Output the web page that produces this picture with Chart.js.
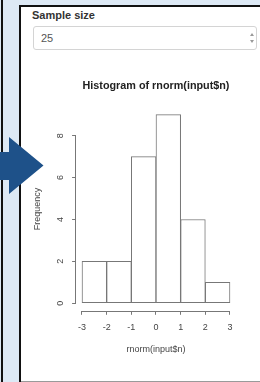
<!DOCTYPE html>
<html>
<head>
<meta charset="utf-8">
<script src="https://cdn.jsdelivr.net/npm/chart.js@4.4.1/dist/chart.umd.min.js"></script>
<style>
  html, body { margin: 0; padding: 0; width: 260px; height: 382px; overflow: hidden; background: #fff;
    font-family: 'Liberation Sans', Arial, Helvetica, sans-serif; }
  .abs { position: absolute; }
  #topband { left: 0; top: 0; width: 260px; height: 5px; background: #dde9f5; }
  #strip { left: 0; top: 0; width: 19px; height: 382px; background: #dde9f5; }
  #line1 { left: 1px; top: 0; width: 2px; height: 382px; background: #111; }
  #line2 { left: 19px; top: 5px; width: 2px; height: 377px; background: #111; }
  #line3 { left: 19px; top: 5px; width: 241px; height: 1.5px; background: #111; }
  #bottom { left: 21px; top: 380.5px; width: 239px; height: 1.5px; background: #9a9a9a; }
  #label { left: 32px; top: 8px; font-size: 11px; line-height: 14px; font-weight: bold; color: #333; }
  #input { left: 33px; top: 26px; width: 224px; height: 24px; box-sizing: border-box; border: 1px solid #d4d4d4;
    border-radius: 3px; font-size: 11px; line-height: 22px; color: #555; padding-left: 7px; }
  .tri { width: 0; height: 0; border-left: 2.5px solid transparent; border-right: 2.5px solid transparent; }
  #up { left: 249.5px; top: 33px; border-bottom: 3px solid #999; }
  #down { left: 249.5px; top: 40px; border-top: 3px solid #999; }
  #wrap { left: 21px; top: 60px; width: 239px; height: 320px; }
</style>
</head>
<body>
<div id="topband" class="abs"></div>
<div id="strip" class="abs"></div>
<div id="line1" class="abs"></div>
<div id="line2" class="abs"></div>
<div id="line3" class="abs"></div>
<div id="bottom" class="abs"></div>
<svg class="abs" style="left:0;top:0" width="50" height="382">
  <polygon points="0,152 9,152 9,137 43.5,165.5 9,194 9,180 0,180" fill="#1e5189"/>
</svg>
<div id="label" class="abs">Sample size</div>
<div id="input" class="abs">25</div>
<div id="up" class="abs tri"></div>
<div id="down" class="abs tri"></div>
<div id="wrap" class="abs"><canvas id="hist"></canvas></div>

<script>
// histogram of 25 draws, bins of width 1
const binMids = [-2.5, -1.5, -0.5, 0.5, 1.5, 2.5];
const counts = [2, 2, 7, 9, 4, 1];
const xTicks = [-3, -2, -1, 0, 1, 2, 3];
const yTicks = [0, 2, 4, 6, 8];

const lineCol = '#777';
const textCol = '#444';
const fam = "'Liberation Sans', Arial, Helvetica, sans-serif";

// R style axis lines: only from first to last tick
const rAxes = {
    id: 'rAxes',
    afterDraw(chart) {
        const { ctx, chartArea, scales: { x, y } } = chart;
        ctx.save();
        ctx.strokeStyle = lineCol;
        ctx.lineWidth = 1;
        ctx.beginPath();
        const by = Math.round(chartArea.bottom) + 0.5;
        ctx.moveTo(x.getPixelForValue(xTicks[0]), by);
        ctx.lineTo(x.getPixelForValue(xTicks[xTicks.length - 1]), by);
        const lx = Math.round(chartArea.left) - 0.5;
        ctx.moveTo(lx, y.getPixelForValue(yTicks[0]));
        ctx.lineTo(lx, y.getPixelForValue(yTicks[yTicks.length - 1]));
        ctx.stroke();
        ctx.restore();
    }
};

const tickFont = { size: 9, family: fam };

new Chart(document.getElementById('hist'), {
    type: 'bar',
    data: {
        datasets: [{
            data: binMids.map((m, i) => ({ x: m, y: counts[i] })),
            backgroundColor: '#fff',
            borderColor: lineCol,
            borderWidth: 1,
            borderSkipped: false,
            barPercentage: 1,
            categoryPercentage: 1
        }]
    },
    options: {
        responsive: true,
        maintainAspectRatio: false,
        animation: false,
        layout: { padding: { left: 0, right: 24.1, top: 0, bottom: 24.2 } },
        plugins: {
            legend: { display: false },
            tooltip: { enabled: false },
            title: {
                display: true,
                text: 'Histogram of rnorm(input$n)',
                fullSize: false,
                color: '#222',
                font: { size: 10.8, weight: 'bold', family: fam },
                padding: { top: 19.5, bottom: 14.7 }
            }
        },
        scales: {
            x: {
                type: 'linear',
                min: -3.24,
                max: 3.24,
                offset: false,
                afterBuildTicks: s => { s.ticks = xTicks.map(v => ({ value: v })); },
                afterFit: s => { s.height = 45; },
                grid: { offset: false, drawOnChartArea: false, drawTicks: true, tickLength: 4, color: lineCol },
                border: { display: false },
                ticks: { color: textCol, font: tickFont, padding: 7, maxRotation: 0, autoSkip: false, callback: v => String(v) },
                title: { display: true, text: 'rnorm(input$n)', color: textCol, font: tickFont, padding: { top: 0, bottom: 0.4 } }
            },
            y: {
                min: -0.36,
                max: 9.36,
                afterBuildTicks: s => { s.ticks = yTicks.map(v => ({ value: v })); },
                afterFit: s => { s.width = 55.08; },
                grid: { drawOnChartArea: false, drawTicks: true, tickLength: 4, color: lineCol },
                border: { display: false },
                ticks: { color: textCol, font: tickFont, padding: 9.5, minRotation: 90, maxRotation: 90, crossAlign: 'center', callback: v => String(v) },
                title: { display: true, text: 'Frequency', color: textCol, font: tickFont, padding: { top: 11.6, bottom: 0 } }
            }
        }
    },
    plugins: [rAxes]
});
</script>
</body>
</html>
